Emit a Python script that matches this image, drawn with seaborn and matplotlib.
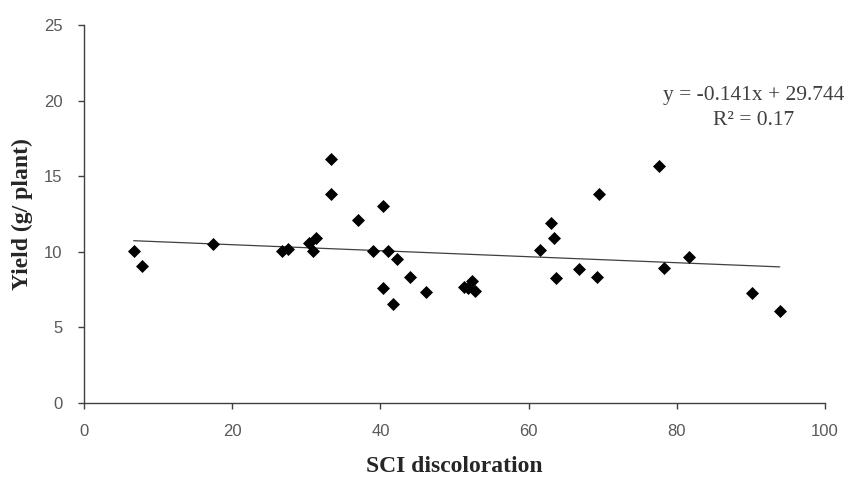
import seaborn as sns
import matplotlib.pyplot as plt
import pandas as pd

# SCI discoloration vs yield
sci = [6.7, 7.8, 17.4, 26.7, 27.5, 30.3, 31.3, 30.9, 33.3, 33.3,
       40.4, 37.0, 39.0, 41.0, 42.2, 44.0, 40.4, 41.7, 46.1,
       51.3, 52.3, 52.8, 51.8,
       61.5, 63.0, 63.4, 63.7, 66.8, 69.2, 69.5, 77.6, 78.3, 81.7, 90.1, 93.9]
yield_g = [10.03, 9.08, 10.5, 10.08, 10.2, 10.56, 10.9, 10.08, 16.15, 13.8,
           13.0, 12.1, 10.03, 10.06, 9.53, 8.36, 7.58, 6.57, 7.34,
           7.69, 8.09, 7.4, 7.6,
           10.15, 11.9, 10.9, 8.25, 8.86, 8.36, 13.8, 15.67, 8.93, 9.64, 7.25, 6.06]

eq_text = 'y = -0.141x + 29.744'
r2_text = 'R² = 0.17'

df = pd.DataFrame({'SCI discoloration': sci, 'Yield (g/ plant)': yield_g})

sns.set_style('white')
plt.rcParams['font.family'] = ['Liberation Serif', 'DejaVu Serif']

fig = plt.figure(figsize=(8.45, 4.78), dpi=100)
ax = fig.add_axes([0.0994, 0.1569, 0.8769, 0.7908])

# scatter + linear trendline fitted from the points
sns.regplot(data=df, x='SCI discoloration', y='Yield (g/ plant)', ax=ax,
            ci=None, marker='D',
            scatter_kws={'s': 44, 'color': '#000000', 'alpha': 1,
                         'linewidths': 0, 'zorder': 3},
            line_kws={'color': '#404040', 'linewidth': 0.9, 'zorder': 2})

ax.set_xlim(0, 100)
ax.set_ylim(0, 25)
ax.set_xticks([0, 20, 40, 60, 80, 100])
ax.set_yticks([0, 5, 10, 15, 20, 25])

sns.despine(ax=ax)
for side in ['left', 'bottom']:
    ax.spines[side].set_color('#404040')
    ax.spines[side].set_linewidth(1.0)

ax.tick_params(axis='both', direction='out', length=4.3, width=1.0, color='#404040',
               labelsize=12, labelcolor='#595959', pad=11, left=True, bottom=True)
for lab in ax.get_xticklabels() + ax.get_yticklabels():
    lab.set_family(['Liberation Sans', 'DejaVu Sans'])

ax.set_xlabel('SCI discoloration', fontsize=17, fontweight='bold', labelpad=12)
ax.set_ylabel('Yield (g/ plant)', fontsize=17, fontweight='bold', labelpad=8)

ax.text(0.904, 0.813, eq_text, transform=ax.transAxes, ha='center', va='center',
        fontsize=15.5, color='#404040')
ax.text(0.904, 0.747, r2_text, transform=ax.transAxes, ha='center', va='center',
        fontsize=15.5, color='#404040')

fig.savefig('out.png', dpi=100)
